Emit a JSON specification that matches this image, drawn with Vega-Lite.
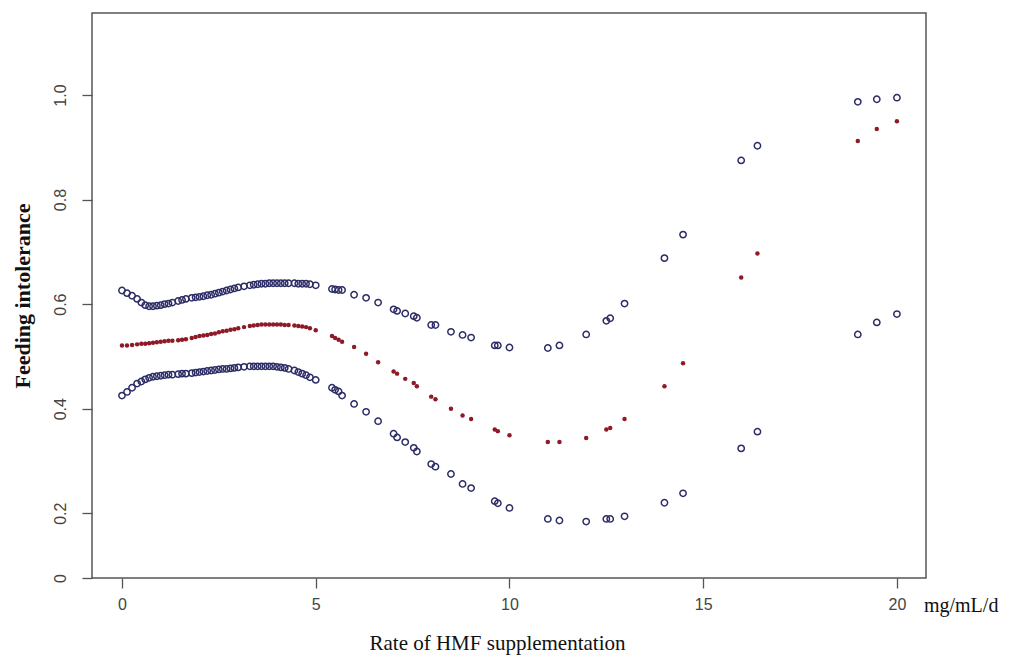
{
  "$schema": "https://vega.github.io/schema/vega-lite/v6.json",
  "width": 834,
  "height": 565,
  "autosize": {"type": "none"},
  "padding": {"top": 13, "left": 92, "right": 101, "bottom": 81},
  "background": "white",
  "config": {
    "view": {"stroke": "#555555", "strokeWidth": 1.5},
    "axis": {"grid": false, "domain": false, "tickColor": "#555555", "tickWidth": 1.3, "tickSize": 10,
      "labelFont": "Liberation Sans Narrow, Liberation Sans, sans-serif", "labelFontSize": 16, "labelColor": "#444444",
      "titleFont": "Liberation Serif, DejaVu Serif, serif", "titleFontSize": 21, "titleFontWeight": "normal", "titleColor": "#111111"}
  },
  "data": {"values": [
    {"x": 0, "hi": 0.626, "fit": 0.521, "lo": 0.425},
    {"x": 0.13, "hi": 0.621, "fit": 0.521, "lo": 0.432},
    {"x": 0.26, "hi": 0.616, "fit": 0.522, "lo": 0.440},
    {"x": 0.39, "hi": 0.610, "fit": 0.523, "lo": 0.448},
    {"x": 0.5, "hi": 0.603, "fit": 0.524, "lo": 0.452},
    {"x": 0.6, "hi": 0.598, "fit": 0.524, "lo": 0.456},
    {"x": 0.7, "hi": 0.596, "fit": 0.525, "lo": 0.459},
    {"x": 0.8, "hi": 0.596, "fit": 0.526, "lo": 0.461},
    {"x": 0.9, "hi": 0.597, "fit": 0.527, "lo": 0.462},
    {"x": 1.0, "hi": 0.598, "fit": 0.528, "lo": 0.463},
    {"x": 1.1, "hi": 0.600, "fit": 0.529, "lo": 0.464},
    {"x": 1.2, "hi": 0.601, "fit": 0.530, "lo": 0.465},
    {"x": 1.3, "hi": 0.603, "fit": 0.530, "lo": 0.465},
    {"x": 1.45, "hi": 0.606, "fit": 0.531, "lo": 0.466},
    {"x": 1.55, "hi": 0.608, "fit": 0.532, "lo": 0.467},
    {"x": 1.65, "hi": 0.610, "fit": 0.533, "lo": 0.467},
    {"x": 1.8, "hi": 0.612, "fit": 0.535, "lo": 0.468},
    {"x": 1.9, "hi": 0.613, "fit": 0.537, "lo": 0.469},
    {"x": 2.0, "hi": 0.614, "fit": 0.539, "lo": 0.470},
    {"x": 2.1, "hi": 0.615, "fit": 0.540, "lo": 0.471},
    {"x": 2.2, "hi": 0.617, "fit": 0.541, "lo": 0.472},
    {"x": 2.3, "hi": 0.618, "fit": 0.543, "lo": 0.473},
    {"x": 2.4, "hi": 0.620, "fit": 0.544, "lo": 0.474},
    {"x": 2.5, "hi": 0.622, "fit": 0.546, "lo": 0.475},
    {"x": 2.6, "hi": 0.624, "fit": 0.548, "lo": 0.476},
    {"x": 2.7, "hi": 0.626, "fit": 0.549, "lo": 0.476},
    {"x": 2.8, "hi": 0.628, "fit": 0.551, "lo": 0.477},
    {"x": 2.9, "hi": 0.630, "fit": 0.552, "lo": 0.478},
    {"x": 3.0, "hi": 0.632, "fit": 0.554, "lo": 0.479},
    {"x": 3.15, "hi": 0.634, "fit": 0.556, "lo": 0.480},
    {"x": 3.3, "hi": 0.636, "fit": 0.558, "lo": 0.481},
    {"x": 3.4, "hi": 0.637, "fit": 0.559, "lo": 0.481},
    {"x": 3.5, "hi": 0.638, "fit": 0.560, "lo": 0.481},
    {"x": 3.6, "hi": 0.639, "fit": 0.561, "lo": 0.481},
    {"x": 3.7, "hi": 0.639, "fit": 0.561, "lo": 0.481},
    {"x": 3.8, "hi": 0.640, "fit": 0.561, "lo": 0.481},
    {"x": 3.9, "hi": 0.640, "fit": 0.561, "lo": 0.481},
    {"x": 4.0, "hi": 0.640, "fit": 0.561, "lo": 0.480},
    {"x": 4.1, "hi": 0.640, "fit": 0.561, "lo": 0.479},
    {"x": 4.2, "hi": 0.640, "fit": 0.560, "lo": 0.478},
    {"x": 4.3, "hi": 0.640, "fit": 0.560, "lo": 0.476},
    {"x": 4.45, "hi": 0.640, "fit": 0.559, "lo": 0.473},
    {"x": 4.55, "hi": 0.639, "fit": 0.558, "lo": 0.470},
    {"x": 4.65, "hi": 0.639, "fit": 0.557, "lo": 0.467},
    {"x": 4.75, "hi": 0.639, "fit": 0.556, "lo": 0.464},
    {"x": 4.85, "hi": 0.638, "fit": 0.554, "lo": 0.460},
    {"x": 5.0, "hi": 0.636, "fit": 0.550, "lo": 0.455},
    {"x": 5.42, "hi": 0.629, "fit": 0.539, "lo": 0.440},
    {"x": 5.5, "hi": 0.628, "fit": 0.535, "lo": 0.436},
    {"x": 5.59, "hi": 0.627, "fit": 0.532, "lo": 0.433},
    {"x": 5.68, "hi": 0.627, "fit": 0.528, "lo": 0.425},
    {"x": 5.99, "hi": 0.618, "fit": 0.518, "lo": 0.409},
    {"x": 6.30, "hi": 0.612, "fit": 0.505, "lo": 0.394},
    {"x": 6.61, "hi": 0.603, "fit": 0.489, "lo": 0.376},
    {"x": 7.01, "hi": 0.590, "fit": 0.471, "lo": 0.352},
    {"x": 7.10, "hi": 0.587, "fit": 0.467, "lo": 0.345},
    {"x": 7.31, "hi": 0.582, "fit": 0.457, "lo": 0.336},
    {"x": 7.53, "hi": 0.577, "fit": 0.449, "lo": 0.325},
    {"x": 7.61, "hi": 0.574, "fit": 0.443, "lo": 0.318},
    {"x": 7.98, "hi": 0.560, "fit": 0.423, "lo": 0.294},
    {"x": 8.09, "hi": 0.560, "fit": 0.418, "lo": 0.289},
    {"x": 8.49, "hi": 0.547, "fit": 0.400, "lo": 0.275},
    {"x": 8.79, "hi": 0.541, "fit": 0.387, "lo": 0.256},
    {"x": 9.01, "hi": 0.536, "fit": 0.380, "lo": 0.248},
    {"x": 9.62, "hi": 0.521, "fit": 0.360, "lo": 0.223},
    {"x": 9.70, "hi": 0.521, "fit": 0.357, "lo": 0.219},
    {"x": 10.0, "hi": 0.517, "fit": 0.349, "lo": 0.210},
    {"x": 10.99, "hi": 0.516, "fit": 0.336, "lo": 0.189},
    {"x": 11.29, "hi": 0.521, "fit": 0.336, "lo": 0.186},
    {"x": 11.98, "hi": 0.542, "fit": 0.344, "lo": 0.184},
    {"x": 12.5, "hi": 0.568, "fit": 0.360, "lo": 0.189},
    {"x": 12.6, "hi": 0.573, "fit": 0.363, "lo": 0.189},
    {"x": 12.97, "hi": 0.601, "fit": 0.380, "lo": 0.194},
    {"x": 14.0, "hi": 0.688, "fit": 0.443, "lo": 0.220},
    {"x": 14.48, "hi": 0.733, "fit": 0.487, "lo": 0.238},
    {"x": 15.98, "hi": 0.875, "fit": 0.651, "lo": 0.324},
    {"x": 16.4, "hi": 0.903, "fit": 0.697, "lo": 0.356},
    {"x": 18.99, "hi": 0.987, "fit": 0.912, "lo": 0.542},
    {"x": 19.48, "hi": 0.992, "fit": 0.935, "lo": 0.565},
    {"x": 20.0, "hi": 0.995, "fit": 0.950, "lo": 0.581}
  ]},
  "encoding": {
    "x": {"field": "x", "type": "quantitative",
      "scale": {"domain": [-0.774, 20.75], "nice": false, "zero": false},
      "axis": {"values": [0, 5, 10, 15, 20], "labelPadding": 8, "title": "Rate of HMF supplementation", "titlePadding": 20, "titleX": 405}}
  },
  "layer": [
    {
      "mark": {"type": "point", "shape": "circle", "filled": false, "size": 40, "strokeWidth": 1.5, "opacity": 1, "color": "#2c2c66"},
      "encoding": {
        "y": {"field": "hi", "type": "quantitative",
          "scale": {"domain": [0.076, 1.157], "nice": false, "zero": false},
          "axis": {"values": [0.076, 0.2, 0.4, 0.6, 0.8, 1.0],
            "labelExpr": "datum.value < 0.1 ? '0' : format(datum.value, '.1f')",
            "labelAngle": -90, "labelAlign": "center", "labelBaseline": "bottom", "labelPadding": 14,
            "title": "Feeding intolerance", "titlePadding": 18, "titleFontSize": 22, "titleFontWeight": "bold"}}
      }
    },
    {
      "mark": {"type": "point", "shape": "circle", "filled": false, "size": 40, "strokeWidth": 1.5, "opacity": 1, "color": "#2c2c66"},
      "encoding": {"y": {"field": "lo", "type": "quantitative"}}
    },
    {
      "mark": {"type": "point", "shape": "circle", "filled": true, "size": 20, "opacity": 1, "color": "#8e1a28"},
      "encoding": {"y": {"field": "fit", "type": "quantitative"}}
    },
    {
      "data": {"values": [{"x": 20, "y": 0.076, "label": "mg/mL/d"}]},
      "mark": {"type": "text", "align": "left", "baseline": "middle", "dx": 27, "dy": 28, "font": "Liberation Serif, DejaVu Serif, serif", "fontSize": 20, "color": "#111111", "clip": false},
      "encoding": {"y": {"field": "y", "type": "quantitative"}, "text": {"field": "label"}}
    }
  ]
}
